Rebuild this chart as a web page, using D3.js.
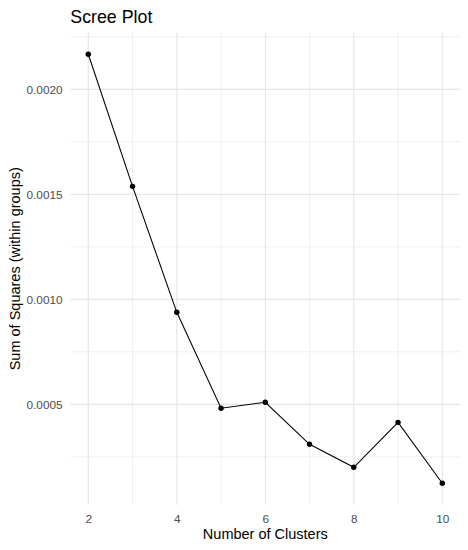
<!DOCTYPE html>
<html>
<head>
<meta charset="utf-8">
<script src="https://cdn.jsdelivr.net/npm/d3@7"></script>
<style>
html,body{margin:0;padding:0;background:#fff;}
svg{display:block;font-family:"Liberation Sans",Arial,sans-serif;}
</style>
</head>
<body>
<svg id="chart" width="468" height="550"></svg>
<script>
const clusters = [2, 3, 4, 5, 6, 7, 8, 9, 10];
const withinSS = [0.002167, 0.001538, 0.000938, 0.000481, 0.0005095, 0.0003095, 0.0002, 0.000414, 0.000124];
const xTicks = [2, 4, 6, 8, 10];
const xMinor = [3, 5, 7, 9];
const yTicks = [0.0005, 0.0010, 0.0015, 0.0020];
const yMinor = [0.00025, 0.00075, 0.00125, 0.00175, 0.00225];

(function () {
const svg = d3.select("#chart");
const pL = 70.6, pR = 460, pT = 32.8, pB = 504.7;

const yMinV = d3.min(withinSS), yMaxV = d3.max(withinSS);
const yPad = (yMaxV - yMinV) * 0.05;
const xPad = (d3.max(clusters) - d3.min(clusters)) * 0.05;

const x = d3.scaleLinear().domain([d3.min(clusters) - xPad, d3.max(clusters) + xPad]).range([pL, pR]);
const y = d3.scaleLinear().domain([yMinV - yPad, yMaxV + yPad]).range([pB, pT]);

const grid = svg.append("g");
grid.selectAll(".ymin").data(yMinor.filter(v => y(v) >= pT && y(v) <= pB)).join("line")
  .attr("x1", pL).attr("x2", pR).attr("y1", d => y(d)).attr("y2", d => y(d))
  .attr("stroke", "#EBEBEB").attr("stroke-width", 0.8);
grid.selectAll(".xmin").data(xMinor).join("line")
  .attr("y1", pT).attr("y2", pB).attr("x1", d => x(d)).attr("x2", d => x(d))
  .attr("stroke", "#EBEBEB").attr("stroke-width", 0.8);
grid.selectAll(".ymaj").data(yTicks).join("line")
  .attr("x1", pL).attr("x2", pR).attr("y1", d => y(d)).attr("y2", d => y(d))
  .attr("stroke", "#E6E6E6").attr("stroke-width", 1.2);
grid.selectAll(".xmaj").data(xTicks).join("line")
  .attr("y1", pT).attr("y2", pB).attr("x1", d => x(d)).attr("x2", d => x(d))
  .attr("stroke", "#E6E6E6").attr("stroke-width", 1.2);

const xAxis = svg.append("g").attr("transform", `translate(0,${pB})`)
  .call(d3.axisBottom(x).tickValues(xTicks).tickSize(0).tickPadding(10).tickFormat(d3.format("d")));
const yAxis = svg.append("g").attr("transform", `translate(${pL},0)`)
  .call(d3.axisLeft(y).tickValues(yTicks).tickSize(0).tickPadding(8).tickFormat(d3.format(".4f")));
[xAxis, yAxis].forEach(a => {
  a.select(".domain").remove();
  a.selectAll("text").attr("fill", "#4D4D4D").attr("font-size", "11.8px")
    .attr("font-family", "'Liberation Sans',Arial,sans-serif");
});

const data = clusters.map((c, i) => ({c, v: withinSS[i]}));
svg.append("path").datum(data)
  .attr("d", d3.line().x(d => x(d.c)).y(d => y(d.v)))
  .attr("fill", "none").attr("stroke", "#000").attr("stroke-width", 1.07);
svg.selectAll(".pt").data(data).join("circle")
  .attr("cx", d => x(d.c)).attr("cy", d => y(d.v)).attr("r", 2.7).attr("fill", "#000");

svg.append("text").attr("x", 70.3).attr("y", 23).attr("font-size", "17.8px").attr("fill", "#000")
  .text("Scree Plot");
svg.append("text").attr("x", (pL + pR) / 2).attr("y", 539).attr("text-anchor", "middle")
  .attr("font-size", "14.5px").attr("fill", "#000").text("Number of Clusters");
svg.append("text").attr("transform", `translate(20,${(pT + pB) / 2}) rotate(-90)`)
  .attr("text-anchor", "middle").attr("font-size", "14.5px").attr("fill", "#000")
  .text("Sum of Squares (within groups)");
})();
</script>
</body>
</html>
